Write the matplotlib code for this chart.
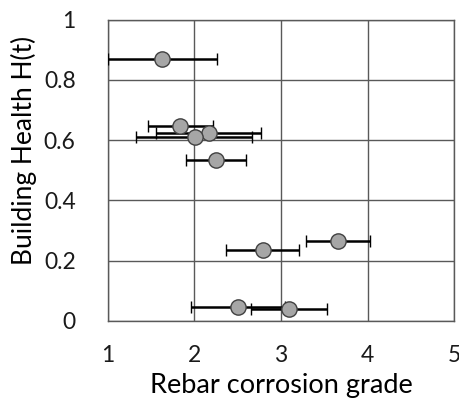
import numpy as np
import matplotlib.pyplot as plt

plt.rcParams['font.family'] = ['Lato', 'DejaVu Sans']

# corrosion grade (mean) and health, with error bar ends
grade = [1.63, 1.84, 2.17, 2.01, 2.25, 3.66, 2.79, 2.50, 3.09]
health = [0.869, 0.647, 0.625, 0.611, 0.535, 0.267, 0.237, 0.048, 0.040]
grade_lo = [1.00, 1.47, 1.56, 1.33, 1.90, 3.29, 2.37, 1.96, 2.65]
grade_hi = [2.26, 2.21, 2.77, 2.67, 2.60, 4.03, 3.21, 3.05, 3.53]

xerr = np.array([np.subtract(grade, grade_lo), np.subtract(grade_hi, grade)])

fig = plt.figure(figsize=(4.6, 4.03), dpi=100)
ax = fig.add_axes([0.234, 0.2035, 0.754, 0.748])

ax.errorbar(grade, health, xerr=xerr, fmt='o', color='black', ecolor='black',
            elinewidth=1.8, capsize=4.5, capthick=1.8,
            markerfacecolor='#a6a6a6', markeredgecolor='#404040',
            markeredgewidth=1.0, markersize=11, zorder=3)

ax.set_xlim(1, 5)
ax.set_ylim(0, 1)
ax.set_xticks([1, 2, 3, 4, 5])
ax.set_yticks([0, 0.2, 0.4, 0.6, 0.8, 1])
ax.set_yticklabels(['0', '0.2', '0.4', '0.6', '0.8', '1'])
ax.grid(True, color='#595959', linewidth=1.0)
ax.set_axisbelow(True)
ax.tick_params(length=0, labelsize=16.5, colors='#1a1a1a')
ax.tick_params(axis='y', pad=23)
ax.tick_params(axis='x', pad=17)
for s in ax.spines.values():
    s.set_color('#595959')
    s.set_linewidth(1.0)

ax.set_xlabel('Rebar corrosion grade', fontsize=19.5)
ax.set_ylabel('Building Health H(t)', fontsize=19)
ax.xaxis.set_label_coords(0.5, -0.172)
ax.yaxis.set_label_coords(-0.205, 0.567)

fig.savefig('out.png', dpi=100)
